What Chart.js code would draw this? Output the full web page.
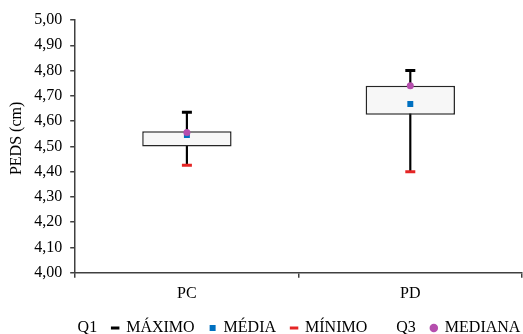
<!DOCTYPE html>
<html lang="pt">
<head>
<meta charset="utf-8">
<title>PEDS</title>
<script src="https://cdn.jsdelivr.net/npm/chart.js@4.4.1/dist/chart.umd.min.js"></script>
<style>
  html, body { margin: 0; padding: 0; background: #fff; }
  #caixa { width: 523px; height: 334px; }
</style>
</head>
<body>
<div id="caixa"><canvas id="grafico"></canvas></div>
<script>
// dados (cm)
const categorias = ['PC', 'PD'];
const q1 = [4.50, 4.625];
const q3 = [4.56, 4.74];
const maximo = [4.635, 4.80];
const minimo = [4.425, 4.40];
const media = [4.545, 4.668];
const mediana = [4.555, 4.74];

const corEixo = '#404040';

Chart.defaults.font.family = '"Liberation Serif", "Times New Roman", serif';
Chart.defaults.font.size = 16;
Chart.defaults.color = '#000';

// caixa = barra flutuante de Q1 ate Q3, bigode = barra fina de minimo ate maximo
const caixas = categorias.map((c, i) => [q1[i], q3[i]]);
const bigodes = categorias.map((c, i) => [minimo[i], maximo[i]]);

// empurra a legenda para a direita e para cima, como no original
const moverLegenda = {
    id: 'moverLegenda',
    afterLayout(chart) {
        const l = chart.legend;
        l.left += 31;
        l.right += 31;
        l.top -= 4;
        l.bottom -= 4;
    }
};

const canvasGrafico = document.getElementById('grafico');
new Chart(canvasGrafico, {
    data: {
        labels: categorias,
        datasets: [
            {
                type: 'line', label: 'Q1', data: q1, showLine: false,
                pointRadius: 0, borderColor: 'transparent', backgroundColor: 'transparent', order: 5
            },
            {
                type: 'line', label: 'MÁXIMO', data: maximo, showLine: false,
                pointStyle: 'line', pointRadius: 5, borderWidth: 3, pointBorderWidth: 3,
                borderColor: '#000', backgroundColor: '#000', order: 1
            },
            {
                type: 'line', label: 'MÉDIA', data: media, showLine: false,
                pointStyle: 'rect', pointRadius: 4.2, borderWidth: 0, pointBorderWidth: 0,
                borderColor: '#0070C0', backgroundColor: '#0070C0', order: 1
            },
            {
                type: 'line', label: 'MÍNIMO', data: minimo, showLine: false,
                pointStyle: 'line', pointRadius: 5, borderWidth: 3, pointBorderWidth: 3,
                borderColor: '#E52525', backgroundColor: '#E52525', order: 1
            },
            {
                type: 'bar', label: 'Q3', data: caixas, grouped: false,
                backgroundColor: '#F7F7F7', borderColor: '#262626', borderWidth: 1.5,
                borderSkipped: false, barPercentage: 0.4, categoryPercentage: 1, order: 3
            },
            {
                type: 'line', label: 'MEDIANA', data: mediana, showLine: false,
                pointStyle: 'circle', pointRadius: 3.5, borderWidth: 0, pointBorderWidth: 0,
                borderColor: '#B54EAD', backgroundColor: '#B54EAD', order: 0
            },
            {
                type: 'bar', label: 'bigode', data: bigodes, grouped: false,
                backgroundColor: '#000', barThickness: 1.5, order: 4
            }
        ]
    },
    options: {
        responsive: true,
        maintainAspectRatio: false,
        animation: false,
        layout: { autoPadding: false, padding: { left: 0, right: 1, top: 20, bottom: -16 } },
        scales: {
            x: {
                type: 'category',
                offset: true,
                grid: {
                    offset: true, drawOnChartArea: false, drawTicks: true,
                    tickLength: 5, color: corEixo, lineWidth: 1.5
                },
                border: { color: corEixo, width: 1.5 },
                ticks: { padding: 6 }
            },
            y: {
                min: 4, max: 5,
                grid: {
                    drawOnChartArea: false, drawTicks: true,
                    tickLength: 5, color: corEixo, lineWidth: 1.5
                },
                border: { color: corEixo, width: 1.5 },
                ticks: {
                    stepSize: 0.1, padding: 8,
                    callback: (v) => v.toFixed(2).replace('.', ',')
                },
                title: {
                    display: true, text: '\u2003PEDS (cm)',
                    font: { size: 16 }, padding: { top: 7, bottom: 0 }
                }
            }
        },
        plugins: {
            tooltip: { enabled: false },
            legend: {
                position: 'bottom',
                labels: {
                    usePointStyle: true,
                    boxWidth: 6, boxHeight: 6, padding: 15,
                    filter: (item) => item.text !== 'bigode',
                    sort: (a, b) => a.datasetIndex - b.datasetIndex,
                    generateLabels(chart) {
                        const itens = Chart.defaults.plugins.legend.labels.generateLabels(chart);
                        itens.forEach((it) => {
                            if (it.text === 'Q1' || it.text === 'Q3') {
                                it.fillStyle = 'rgba(0,0,0,0)';
                                it.strokeStyle = 'rgba(0,0,0,0)';
                            }
                        });
                        return itens;
                    }
                }
            }
        }
    },
    plugins: [moverLegenda]
});
</script>
</body>
</html>
